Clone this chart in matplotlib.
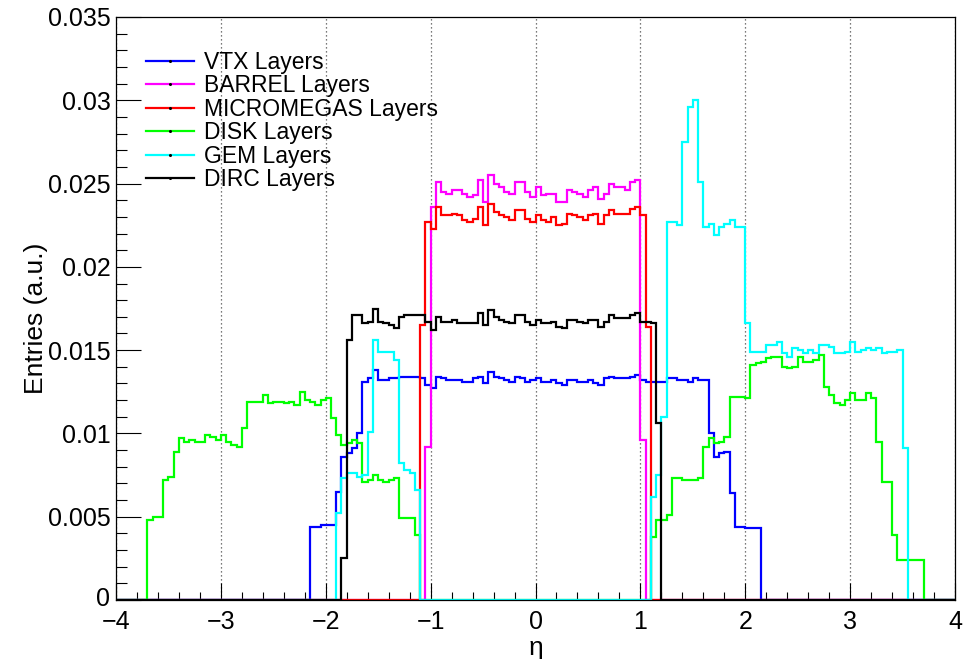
import numpy as np
import matplotlib
matplotlib.use("Agg")
import matplotlib.pyplot as plt
from matplotlib.ticker import MultipleLocator, FuncFormatter
from matplotlib.lines import Line2D
from matplotlib.transforms import offset_copy

plt.rcParams['font.family'] = ['Liberation Sans', 'DejaVu Sans']

# Histogram binning: 160 bins of width 0.05 over eta in [-4, 4]
eta_min, eta_max, n_bins = -4.0, 4.0, 160
bin_width = (eta_max - eta_min) / n_bins

labels = ["VTX Layers", "BARREL Layers", "MICROMEGAS Layers",
          "DISK Layers", "GEM Layers", "DIRC Layers"]
colors = ["#0000ff", "#ff00ff", "#ff0000", "#00ff00", "#00ffff", "#000000"]

# Each series: first non-empty bin low edge and the bin contents that follow
vtx_start = -2.15
vtx_values = [
    0.0044, 0.0044, 0.0045, 0.0045, 0.0045, 0.0065, 0.0086, 0.0088, 0.0091, 0.0100,
    0.0131, 0.0133, 0.0138, 0.0132, 0.0132, 0.0133, 0.0133, 0.0134, 0.0134, 0.0134,
    0.0134, 0.0133, 0.0129,
    0.0127, 0.0134, 0.0133, 0.0132, 0.0132, 0.0132, 0.0131, 0.0131, 0.0133, 0.0134,
    0.0130, 0.0137, 0.0134, 0.0133, 0.0132, 0.0131, 0.0134, 0.0133, 0.0131, 0.0132,
    0.0133, 0.0131, 0.0131, 0.0132, 0.0130, 0.0129, 0.0132, 0.0132, 0.0131, 0.0131,
    0.0132, 0.0130, 0.0129, 0.0133, 0.0134, 0.0133, 0.0133, 0.0133, 0.0134, 0.0135,
    0.0132, 0.0131, 0.0131, 0.0131, 0.0131, 0.0133, 0.0133, 0.0132, 0.0132, 0.0131,
    0.0133, 0.0132, 0.0132, 0.0100, 0.0086, 0.0088, 0.0089, 0.0064, 0.0044, 0.0044,
    0.0043, 0.0043, 0.0043,
]

barrel_start = -1.05
barrel_values = [
    0.0092,
    0.0236, 0.0251, 0.0245, 0.0244, 0.0246, 0.0246, 0.0244, 0.0242, 0.0243, 0.0252,
    0.0239, 0.0255, 0.0250, 0.0248, 0.0245, 0.0244, 0.0251, 0.0251, 0.0245, 0.0242,
    0.0248, 0.0243, 0.0244, 0.0244, 0.0239, 0.0239, 0.0246, 0.0245, 0.0244, 0.0242,
    0.0246, 0.0248, 0.0241, 0.0244, 0.0250, 0.0248, 0.0248, 0.0246, 0.0251, 0.0252,
    0.0096,
]

micromegas_start = -1.10
micromegas_values = [
    0.0165, 0.0227,
    0.0223, 0.0236, 0.0231, 0.0231, 0.0232, 0.0231, 0.0228, 0.0227, 0.0229, 0.0236,
    0.0225, 0.0238, 0.0233, 0.0231, 0.0230, 0.0228, 0.0234, 0.0234, 0.0229, 0.0227,
    0.0231, 0.0228, 0.0227, 0.0230, 0.0225, 0.0226, 0.0232, 0.0231, 0.0230, 0.0228,
    0.0231, 0.0232, 0.0226, 0.0231, 0.0234, 0.0232, 0.0232, 0.0232, 0.0235, 0.0236,
    0.0231, 0.0164,
]

disk_bwd_start = -3.70
disk_bwd_values = [
    0.0048, 0.0050, 0.0050, 0.0072, 0.0074, 0.0089, 0.0097, 0.0095, 0.0096, 0.0095,
    0.0095, 0.0099, 0.0098, 0.0096, 0.0099, 0.0095, 0.0093, 0.0092, 0.0103, 0.0119,
    0.0119, 0.0119, 0.0123, 0.0118, 0.0119, 0.0119, 0.0118, 0.0119, 0.0117, 0.0125,
    0.0120, 0.0119, 0.0117, 0.0120, 0.0121, 0.0109, 0.0099, 0.0093, 0.0094, 0.0096,
    0.0094, 0.0071, 0.0072, 0.0075, 0.0072, 0.0071, 0.0072, 0.0073, 0.0049, 0.0049,
    0.0049, 0.0039,
]
disk_fwd_start = 1.10
disk_fwd_values = [
    0.0038, 0.0048, 0.0048, 0.0051, 0.0073, 0.0073, 0.0072, 0.0072, 0.0072, 0.0073,
    0.0092, 0.0097, 0.0094, 0.0095, 0.0098, 0.0122, 0.0122, 0.0122, 0.0121, 0.0141,
    0.0142, 0.0143, 0.0145, 0.0146, 0.0146, 0.0140, 0.0139, 0.0140, 0.0146, 0.0143,
    0.0143, 0.0144, 0.0147, 0.0128, 0.0123, 0.0118, 0.0117, 0.0120, 0.0124, 0.0120,
    0.0120, 0.0124, 0.0121, 0.0095, 0.0071, 0.0071, 0.0039, 0.0024, 0.0024, 0.0024,
    0.0024, 0.0024,
]

gem_bwd_start = -1.90
gem_bwd_values = [
    0.0052, 0.0073, 0.0076, 0.0076, 0.0074, 0.0075, 0.0101, 0.0156, 0.0149, 0.0149,
    0.0149, 0.0144, 0.0082, 0.0078, 0.0076, 0.0066,
]
gem_fwd_start = 1.10
gem_fwd_values = [
    0.0062, 0.0075, 0.0110, 0.0227, 0.0227, 0.0225, 0.0275, 0.0296, 0.0300, 0.0251,
    0.0224, 0.0226, 0.0219, 0.0224, 0.0226, 0.0228, 0.0224, 0.0224, 0.0166, 0.0149,
    0.0149, 0.0149, 0.0153, 0.0153, 0.0155, 0.0148, 0.0146, 0.0151, 0.0150, 0.0148,
    0.0150, 0.0148, 0.0153, 0.0153, 0.0152, 0.0148, 0.0148, 0.0149, 0.0155, 0.0149,
    0.0150, 0.0151, 0.0150, 0.0151, 0.0148, 0.0149, 0.0149, 0.0150, 0.0091,
]

dirc_start = -1.85
dirc_values = [
    0.0025, 0.0156, 0.0171, 0.0171, 0.0166, 0.0167, 0.0175, 0.0167, 0.0166, 0.0165,
    0.0163, 0.0170, 0.0171, 0.0171, 0.0171, 0.0171, 0.0167,
    0.0162, 0.0170, 0.0167, 0.0167, 0.0168, 0.0166, 0.0166, 0.0166, 0.0166, 0.0172,
    0.0165, 0.0174, 0.0170, 0.0168, 0.0167, 0.0166, 0.0171, 0.0171, 0.0167, 0.0165,
    0.0168, 0.0166, 0.0166, 0.0167, 0.0164, 0.0163, 0.0168, 0.0168, 0.0167, 0.0166,
    0.0168, 0.0168, 0.0164, 0.0167, 0.0171, 0.0169, 0.0169, 0.0169, 0.0171, 0.0172,
    0.0167, 0.0167, 0.0166, 0.0106,
]

edges = np.linspace(eta_min, eta_max, n_bins + 1)


def fill_bins(*segments):
    """Place (start, values) segments into a full array of bin contents."""
    contents = np.zeros(n_bins)
    for start, vals in segments:
        i0 = int(round((start - eta_min) / bin_width))
        contents[i0:i0 + len(vals)] = vals
    return contents


hists = [
    fill_bins((vtx_start, vtx_values)),
    fill_bins((barrel_start, barrel_values)),
    fill_bins((micromegas_start, micromegas_values)),
    fill_bins((disk_bwd_start, disk_bwd_values), (disk_fwd_start, disk_fwd_values)),
    fill_bins((gem_bwd_start, gem_bwd_values), (gem_fwd_start, gem_fwd_values)),
    fill_bins((dirc_start, dirc_values)),
]

W, H, DPI = 969, 659, 100
fig = plt.figure(figsize=(W / DPI, H / DPI), dpi=DPI)
ax = fig.add_axes([116 / W, 1 - 600 / H, (955 - 116) / W, (600 - 17) / H])

for contents, col in zip(hists, colors):
    st = ax.stairs(contents, edges, color=col, linewidth=1.6, baseline=0)
    st.set_joinstyle("miter")

ax.set_xlim(eta_min, eta_max)
ax.set_ylim(0, 0.035)

# vertical dotted grid at integer eta
ax.xaxis.set_major_locator(MultipleLocator(1))
ax.xaxis.set_minor_locator(MultipleLocator(0.2))
ax.yaxis.set_major_locator(MultipleLocator(0.005))
ax.yaxis.set_minor_locator(MultipleLocator(0.001))
ax.grid(axis="x", which="major", color="0.3", linestyle=(0, (1, 2.2)), linewidth=0.9)
ax.set_axisbelow(True)

ax.xaxis.set_major_formatter(FuncFormatter(lambda v, _: f"{v:g}".replace("-", "\u2212")))
ax.yaxis.set_major_formatter(FuncFormatter(lambda v, _: "0" if abs(v) < 1e-12 else f"{v:g}"))

ax.tick_params(axis="both", which="both", direction="in", top=False, right=False,
               width=0.8, colors="black", labelsize=18)
ax.tick_params(axis="x", which="major", length=12, pad=7.5)
ax.tick_params(axis="x", which="minor", length=6)
ax.tick_params(axis="y", which="major", length=18, pad=4)
ax.tick_params(axis="y", which="minor", length=8)
for sp in ax.spines.values():
    sp.set_linewidth(0.9)

fig.text(36 / W, 1 - 318 / H, "Entries (a.u.)", rotation=90, ha="center", va="center",
         fontsize=19)
fig.text(536 / W, 1 - 648 / H, "\u03b7", ha="center", va="center", fontsize=19)

handles = [Line2D([], [], color=c, linewidth=1.6, marker="o", markersize=1.2,
                  markerfacecolor="black", markeredgecolor="black") for c in colors]
ax.legend(handles, labels, loc="upper left",
          bbox_to_anchor=(146 / W, 1 - 51 / H), bbox_transform=fig.transFigure,
          frameon=False, fontsize=16.5, borderpad=0, borderaxespad=0,
          handlelength=2.1, handletextpad=0.42, labelspacing=0.02)

# lift the "0" label on the y axis a little so it clears the "-4" below it
fig.canvas.draw()
for tick in ax.yaxis.get_major_ticks():
    if abs(tick.get_loc()) < 1e-12:
        lab = tick.label1
        lab.set_transform(offset_copy(lab.get_transform(), fig=fig, x=0, y=4, units="dots"))

fig.savefig("out.png", dpi=DPI)
